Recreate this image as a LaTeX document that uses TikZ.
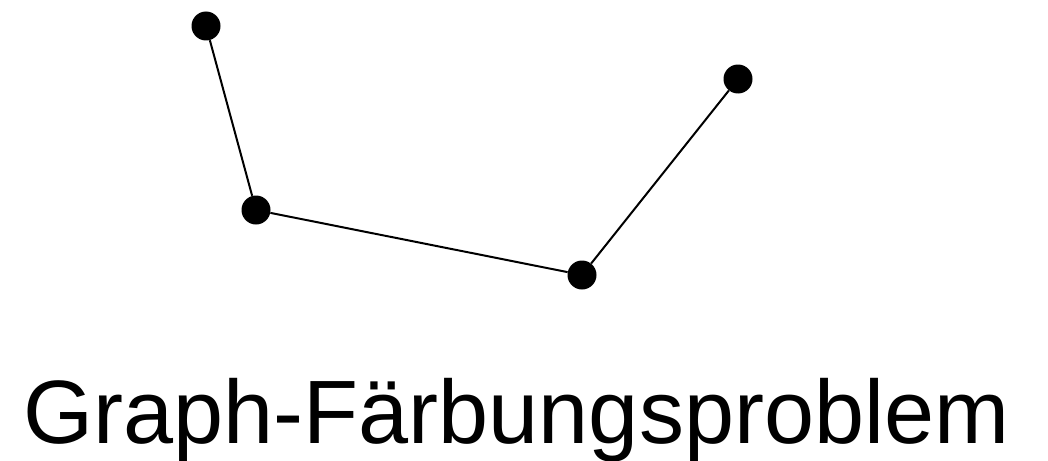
\documentclass[tikz,border=0pt]{standalone}
\usepackage{fontspec}
\setmainfont{Liberation Sans}
\begin{document}
\begin{tikzpicture}[x=1pt,y=-1pt,
  vertex/.style={circle,fill=black,inner sep=0pt,minimum size=29pt},
  edge/.style={line width=2pt,black},
  title/.style={inner sep=0pt,anchor=base,font=\fontsize{90}{90}\selectfont}]
\useasboundingbox (0,0) rectangle (1048,460);
\node[vertex] (a) at (206,26) {};
\node[vertex] (b) at (256,210) {};
\node[vertex] (c) at (582,275) {};
\node[vertex] (d) at (738,79) {};
\draw[edge] (a) -- (b);
\draw[edge] (b) -- (c);
\draw[edge] (c) -- (d);
\node[title] (t) at (516.5,443) {Graph-Färbungsproblem};
\end{tikzpicture}
\end{document}
